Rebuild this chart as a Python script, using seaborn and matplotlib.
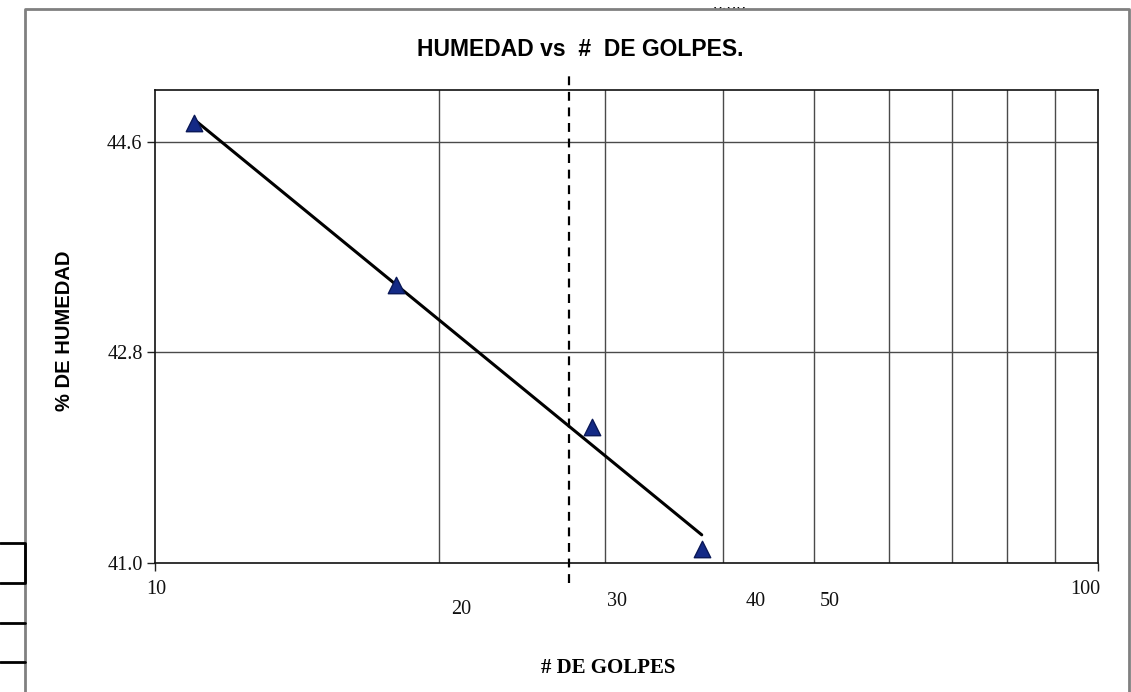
import numpy as np
import pandas as pd
import matplotlib
matplotlib.use("Agg")
import matplotlib.pyplot as plt
import matplotlib.transforms as mtransforms
import seaborn as sns

# ---- data ----
golpes = [11.0, 18.0, 29.1, 38.0]
humedad = [44.76, 43.38, 42.16, 41.12]
x_ref = 27.5                      # vertical dashed reference line
y_ticks = [41.0, 42.8, 44.6]
y_tick_labels = ["41.0", "42.8", "44.6"]
x_label_vals = [10, 20, 30, 40, 50, 100]
x_label_text = ["10", "20", "30", "40", "50", "100"]
x_grid = [20, 30, 40, 50, 60, 70, 80, 90]
title = "HUMEDAD vs  #  DE GOLPES."
xlabel = "# DE GOLPES"
ylabel = "% DE HUMEDAD"

df = pd.DataFrame({"golpes": golpes, "humedad": humedad})

sns.set_theme(style="white")
plt.rcParams["font.family"] = ["Liberation Sans", "DejaVu Sans"]
plt.rcParams["text.color"] = "black"

W, H = 1131, 692
fig = plt.figure(figsize=(W / 100, H / 100), dpi=100)
ax = fig.add_axes([155 / W, 1 - 563 / H, (1098 - 155) / W, (563 - 90) / H])

ax.set_xscale("log")
ax.set_xlim(10, 100)
ax.set_ylim(41.0, 45.044)

# grid
for g in x_grid:
    ax.axvline(g, color="#4a4a4a", lw=1.0, zorder=1)
for yv in y_ticks[1:]:
    ax.axhline(yv, color="#4a4a4a", lw=1.0, zorder=1)

# trend line (log fit) and points
sns.regplot(data=df, x="golpes", y="humedad", logx=True, ci=None, scatter=False,
            line_kws=dict(color="black", lw=2.2, zorder=3), ax=ax)
sns.scatterplot(data=df, x="golpes", y="humedad", marker="^", s=140,
                color="#142a86", edgecolor="#0a1858", linewidth=1.0, zorder=4, ax=ax)

# dashed vertical reference line
ax.axvline(x_ref, ymin=-20 / 473, ymax=(563 - 72) / 473, color="black", lw=1.6,
           ls=(0, (4, 3)), clip_on=False, zorder=5)

# ticks
ax.set_xticks([10, 100])
ax.set_xticks([], minor=True)
ax.set_xticklabels([])
ax.set_yticks(y_ticks)
ax.set_yticklabels(y_tick_labels, family=["Liberation Serif"], fontsize=14.5, color="#111111")
ax.tick_params(axis="both", which="major", direction="out", length=6, width=1.0,
               color="#222222", bottom=True, left=True)
ax.tick_params(axis="y", pad=3)
ax.minorticks_off()

# x tick labels with their odd offsets
offsets = {10: (1, -27), 20: (22, -46), 30: (12, -38), 40: (33, -39), 50: (16, -39), 100: (-13, -27)}
base = mtransforms.blended_transform_factory(ax.transData, ax.transAxes)
for v, t in zip(x_label_vals, x_label_text):
    dx, dy = offsets[v]
    tr = mtransforms.offset_copy(base, fig=fig, x=dx, y=dy, units="dots")
    ax.text(v, 0, t, transform=tr, ha="center", va="center",
            family=["Liberation Serif"], fontsize=14.5, color="#111111")

for s in ax.spines.values():
    s.set_color("#111111")
    s.set_linewidth(1.2)

ax.set_xlabel("")
ax.set_ylabel("")

# titles / labels
fig.text(580 / W, 1 - 50 / H, title, ha="center", va="center", color="black",
         fontsize=16.5, fontweight="bold", family=["Liberation Sans"])
fig.text(65 / W, 1 - 331 / H, ylabel, ha="center", va="center", rotation=90, color="black",
         fontsize=14.5, fontweight="bold", family=["Liberation Sans"])
fig.text(608 / W, 1 - 668 / H, xlabel, ha="center", va="center", color="black",
         fontsize=15, fontweight="bold", family=["Liberation Serif"])

# cut-off text at the top
fig.text(729 / W, 1 - 10 / H, "0.00", ha="center", va="baseline",
         fontsize=14, family=["Liberation Serif"], color="black")
fig.patches.append(plt.Rectangle((0, 1 - 7 / H), 1, 7 / H, transform=fig.transFigure,
                                 facecolor="white", edgecolor="none", zorder=10))

# outer frame
fig.lines.append(plt.Line2D([25 / W, 25 / W, 1129 / W, 1129 / W],
                            [0, 1 - 9 / H, 1 - 9 / H, 0], transform=fig.transFigure,
                            color="#808080", lw=2, zorder=11))
# left boxes
fig.lines.append(plt.Line2D([0, 25 / W, 25 / W, 0],
                            [1 - 543 / H, 1 - 543 / H, 1 - 583 / H, 1 - 583 / H],
                            transform=fig.transFigure, color="black", lw=2, zorder=12))
for yy in (623, 662):
    fig.lines.append(plt.Line2D([0, 25 / W], [1 - yy / H, 1 - yy / H],
                                transform=fig.transFigure, color="black", lw=2, zorder=12))

fig.savefig("out.png", dpi=100)
